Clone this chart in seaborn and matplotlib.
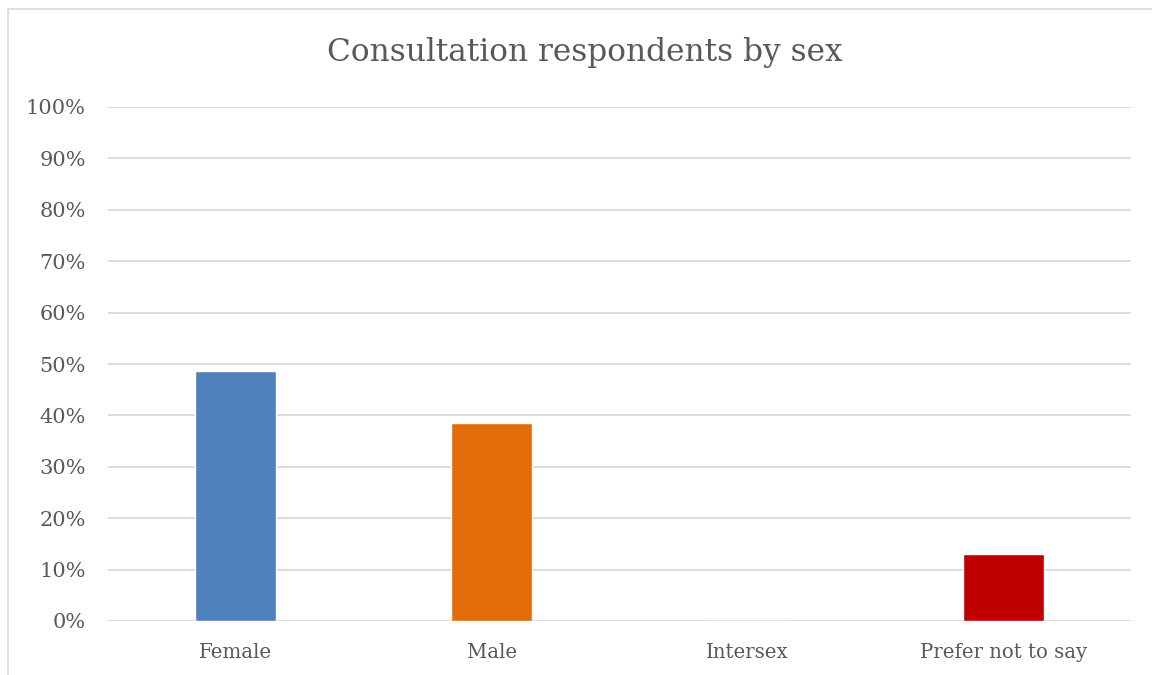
import matplotlib
matplotlib.use("Agg")
import matplotlib.pyplot as plt
import seaborn as sns
from matplotlib.patches import Rectangle
from matplotlib.ticker import PercentFormatter

# --- data ---
categories = ["Female", "Male", "Intersex", "Prefer not to say"]
shares = [0.486, 0.385, 0.0, 0.130]
bar_colors = ["#4F81BD", "#E36C0A", "#A5A5A5", "#C00000"]

TEXT = "#595959"
GRID = "#D9D9D9"

sns.set_style("white")
plt.rcParams["font.family"] = ["DejaVu Serif"]

fig = plt.figure(figsize=(11.52, 6.75), dpi=100)
ax = fig.add_axes([108 / 1152, 1 - 621 / 675, (1131 - 108) / 1152, (621 - 107) / 675])

sns.barplot(x=categories, y=shares, hue=categories, palette=bar_colors,
            width=0.317, legend=False, ax=ax, saturation=1)

ax.set_ylim(0, 1)
ax.set_xlim(-0.5, len(categories) - 0.5)
ax.set_yticks([i / 10 for i in range(11)])
ax.yaxis.set_major_formatter(PercentFormatter(1.0, decimals=0))
ax.grid(axis="y", color=GRID, linewidth=1.3)
ax.set_axisbelow(True)
for s in ax.spines.values():
    s.set_visible(False)
ax.tick_params(axis="both", length=0, colors=TEXT)
ax.tick_params(axis="y", pad=16, labelsize=15)
ax.tick_params(axis="x", pad=16, labelsize=14.2)
ax.set_xlabel("")
ax.set_ylabel("")

fig.text(585 / 1152, 1 - 53 / 675, "Consultation respondents by sex",
         ha="center", va="center", fontsize=22.5, color=TEXT)

# chart frame
fig.patches.append(Rectangle((8 / 1152, -0.1), 1.2, 1 - 9 / 675 + 0.1,
                             transform=fig.transFigure, fill=False,
                             edgecolor=GRID, linewidth=1.2))

fig.savefig("out.png", dpi=100, facecolor="white")
